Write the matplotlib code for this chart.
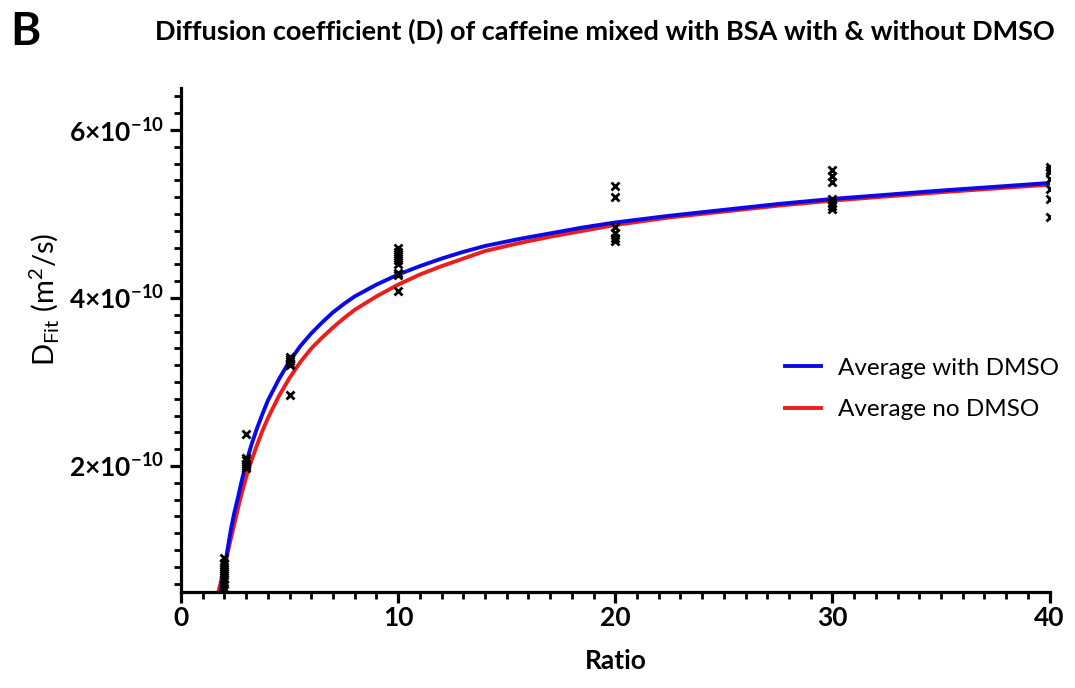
import matplotlib
matplotlib.use('Agg')
import matplotlib.pyplot as plt
from matplotlib.ticker import MultipleLocator, FuncFormatter

plt.rcParams['font.family'] = ['Lato', 'DejaVu Sans']
plt.rcParams['mathtext.fontset'] = 'custom'
plt.rcParams['mathtext.rm'] = 'Lato'
plt.rcParams['mathtext.bf'] = 'Lato:bold'

# Measured diffusion coefficients (units of 1e-10 m^2/s) per ratio
ratio_2 = [0.55, 0.6, 0.65, 0.7, 0.75, 0.8, 0.85, 0.9]
ratio_3 = [2.38, 2.1, 2.07, 2.03, 2.0, 1.98]
ratio_5 = [3.3, 3.28, 3.25, 3.22, 3.2, 2.84]
ratio_10 = [4.6, 4.55, 4.5, 4.45, 4.4, 4.3, 4.28, 4.08]
ratio_20 = [5.33, 5.2, 4.85, 4.78, 4.72, 4.68]
ratio_30 = [5.52, 5.45, 5.38, 5.18, 5.13, 5.09, 5.06]
ratio_40 = [5.56, 5.53, 5.5, 5.42, 5.3, 5.18, 4.97]
point_groups = {2: ratio_2, 3: ratio_3, 5: ratio_5, 10: ratio_10,
                20: ratio_20, 30: ratio_30, 40: ratio_40}

# Fitted curves
dmso_x = [1.83, 2.0, 2.15, 2.3, 2.45, 2.6, 2.8, 3.0, 3.25, 3.5, 3.75, 4.0, 4.5,
          5.0, 5.5, 6.0, 6.5, 7.0, 7.5, 8.0, 8.5, 9.0, 10, 11, 12, 13, 14,
          15.5, 17, 18.5, 20, 22.5, 25, 27.5, 30, 35, 40]
dmso_y = [0.5, 0.78, 1.02, 1.25, 1.44, 1.6, 1.83, 2.04, 2.26, 2.45, 2.62, 2.78,
          3.03, 3.25, 3.43, 3.58, 3.71, 3.83, 3.93, 4.02, 4.09, 4.16, 4.28,
          4.38, 4.47, 4.55, 4.62, 4.7, 4.77, 4.84, 4.9, 4.98, 5.05, 5.12,
          5.18, 5.28, 5.37]
nodmso_x = [1.72, 2.0, 2.2, 2.4, 2.7, 3.0, 3.25, 3.5, 3.75, 4.0, 4.5, 5.0,
            5.5, 6.0, 6.5, 7.0, 7.5, 8.0, 8.5, 9.0, 10, 11, 12, 13, 14,
            15.5, 17, 18.5, 20, 22.5, 25, 27.5, 30, 35, 40]
nodmso_y = [0.5, 0.8, 1.03, 1.25, 1.58, 1.87, 2.07, 2.25, 2.42, 2.57, 2.83,
            3.05, 3.24, 3.4, 3.53, 3.65, 3.76, 3.86, 3.94, 4.02, 4.16, 4.28,
            4.38, 4.47, 4.56, 4.65, 4.73, 4.8, 4.87, 4.96, 5.03, 5.1, 5.16,
            5.26, 5.35]

scale = 1e-10

fig = plt.figure(figsize=(10.75, 6.88), dpi=100)
ax = fig.add_axes([0.1684, 0.1395, 0.808, 0.7325])

for x, vals in point_groups.items():
    ax.plot([x] * len(vals), [v * scale for v in vals], linestyle='none',
            marker='x', color='black', markersize=6, markeredgewidth=2, zorder=3)

ax.plot(dmso_x, [v * scale for v in dmso_y], color='#0a0ae6', lw=2.8,
        label='Average with DMSO', zorder=2)
ax.plot(nodmso_x, [v * scale for v in nodmso_y], color='#ee1c1c', lw=2.8,
        label='Average no DMSO', zorder=1)

ax.set_xlim(0, 40)
ax.set_ylim(0.5e-10, 6.5e-10)
ax.spines['top'].set_visible(False)
ax.spines['right'].set_visible(False)
ax.spines['left'].set_linewidth(2.3)
ax.spines['bottom'].set_linewidth(2.3)

ax.xaxis.set_major_locator(MultipleLocator(10))
ax.xaxis.set_minor_locator(MultipleLocator(1))
ax.yaxis.set_major_locator(MultipleLocator(2e-10))
ax.yaxis.set_minor_locator(MultipleLocator(0.2e-10))
ax.tick_params(which='major', length=8, width=2.3, labelsize=19, pad=4)
ax.tick_params(axis='x', which='major', pad=2)
ax.tick_params(which='minor', length=5, width=2.0)

ax.yaxis.set_major_formatter(FuncFormatter(
    lambda v, p: r'$\mathbf{%d{\times}10^{-10}}$' % round(v / scale)))
ax.yaxis.get_offset_text().set_visible(False)
for lab in ax.get_xticklabels():
    lab.set_fontweight('bold')

ax.set_xlabel('Ratio', fontsize=19, fontweight='bold', labelpad=14)
ax.set_ylabel(r'D$_{\mathrm{Fit}}$ (m$^2$/s)', fontsize=21)
ax.yaxis.set_label_coords(-0.137, 0.58)

fig.text(0.563, 0.955, 'Diffusion coefficient (D) of caffeine mixed with BSA with & without DMSO',
         ha='center', va='center', fontsize=19.5, fontweight='bold')
fig.text(0.01, 0.953, 'B', ha='left', va='center', fontsize=33, fontweight='bold')

ax.legend(loc='center left', bbox_to_anchor=(0.67, 0.403), frameon=False,
          fontsize=17.5, handlelength=1.5, handletextpad=0.7, labelspacing=0.85)

fig.savefig('out.png', dpi=100)
